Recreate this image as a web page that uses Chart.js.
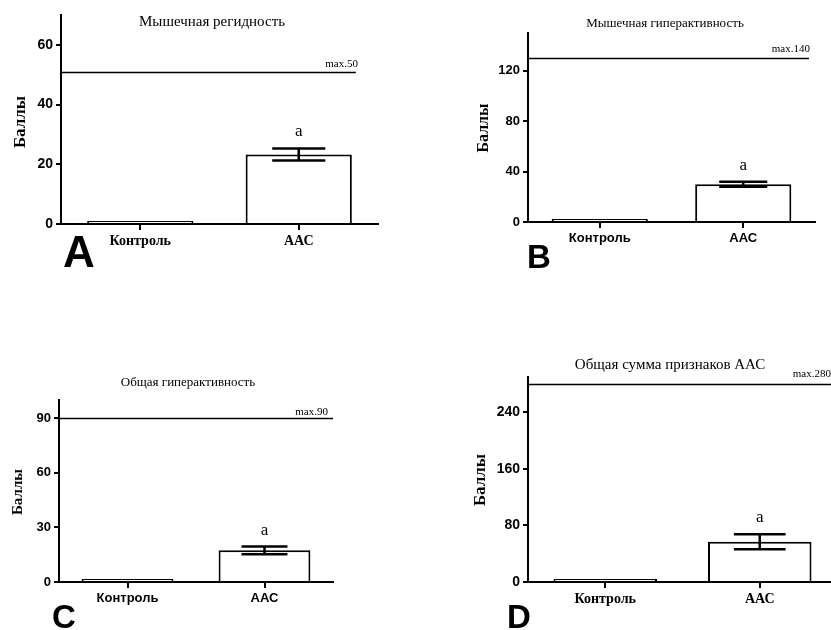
<!DOCTYPE html>
<html>
<head>
<meta charset="utf-8">
<script src="https://cdn.jsdelivr.net/npm/chart.js@4/dist/chart.umd.min.js"></script>
<style>
  html, body { margin: 0; padding: 0; background: #fff; width: 831px; height: 630px; overflow: hidden; }
  canvas { position: absolute; left: 0; top: 0; }
</style>
</head>
<body>
<canvas id="chartA" width="860" height="630"></canvas>
<canvas id="chartB" width="860" height="630"></canvas>
<canvas id="chartC" width="860" height="630"></canvas>
<canvas id="chartD" width="860" height="630"></canvas>
<script>
// ---- data ----
const categories = ["Контроль", "ААС"];
const titles = ["Мышечная регидность", "Мышечная гиперактивность", "Общая гиперактивность", "Общая сумма признаков ААС"];
const letters = ["A", "B", "C", "D"];
const yLabel = "Баллы";

const meansA = [0.4, 23.3];
const errA = [0, 2.0];
const meansB = [1.6, 30];
const errB = [0, 2.0];
const meansC = [0.7, 17.4];
const errC = [0, 2.1];
const meansD = [3.2, 57];
const errD = [0, 10.5];

const maxValues = [51, 130, 90, 280];
const maxLabels = ["max.50", "max.140", "max.90", "max.280"];
const yMaxes = [70, 150, 100, 290];
const yTicks = [[0, 20, 40, 60], [0, 40, 80, 120], [0, 30, 60, 90], [0, 80, 160, 240]];
const sigMark = "a";

// ---- layout (page pixels) ----
const CANVAS_W = 860;
const CANVAS_H = 630;
const Y_W = 55;
const X_H = 40;
const SERIF = "Liberation Serif";
const SANS = "Liberation Sans";

const layouts = [
  { left: 61, top: 15, right: 378, bottom: 224, titleX: 212, titleY: 26, titleSize: 15,
    yLabX: 21, yLabY: 122, yLabSize: 17, letX: 63, letY: 267, letSize: 44,
    xFont: SERIF, xSize: 14, tickSize: 14, lineEnd: 0.93, maxX: 358, maxDy: 6 },
  { left: 528, top: 33, right: 815, bottom: 222, titleX: 665, titleY: 27, titleSize: 13,
    yLabX: 484, yLabY: 128, yLabSize: 16, letX: 527, letY: 268, letSize: 33,
    xFont: SANS, xSize: 13, tickSize: 13, lineEnd: 0.979, maxX: 810, maxDy: 7 },
  { left: 59, top: 400, right: 333, bottom: 582, titleX: 188, titleY: 386, titleSize: 13,
    yLabX: 18, yLabY: 492, yLabSize: 15, letX: 52, letY: 628, letSize: 33,
    xFont: SANS, xSize: 13, tickSize: 13, lineEnd: 1, maxX: 328, maxDy: 4 },
  { left: 528, top: 377, right: 837, bottom: 582, titleX: 670, titleY: 369, titleSize: 15,
    yLabX: 481, yLabY: 480, yLabSize: 17, letX: 507, letY: 628, letSize: 33,
    xFont: SERIF, xSize: 14, tickSize: 14, lineEnd: 1, maxX: 831, maxDy: 8 }
];

// error bars, max line and all the free text
const extrasPlugin = {
  id: "extras",
  afterDraw(chart) {
    const p = chart.options.plugins.extras;
    const lay = p.lay;
    const ctx = chart.ctx;
    const y = chart.scales.y;
    const area = chart.chartArea;
    const bars = chart.getDatasetMeta(0).data;
    ctx.save();
    ctx.strokeStyle = "#000";
    ctx.fillStyle = "#000";

    p.errors.forEach((e, i) => {
      if (!e) return;
      const bar = bars[i];
      const top = y.getPixelForValue(p.means[i] + e);
      const bot = y.getPixelForValue(p.means[i] - e);
      const half = bar.width / 4;
      ctx.lineWidth = 2.5;
      ctx.beginPath();
      ctx.moveTo(bar.x, top);
      ctx.lineTo(bar.x, bot);
      ctx.moveTo(bar.x - half, top);
      ctx.lineTo(bar.x + half, top);
      ctx.moveTo(bar.x - half, bot);
      ctx.lineTo(bar.x + half, bot);
      ctx.stroke();
      ctx.font = "17px '" + SERIF + "'";
      ctx.textAlign = "center";
      ctx.textBaseline = "alphabetic";
      ctx.fillText(sigMark, bar.x, top - 12);
    });

    // max line
    const my = Math.round(y.getPixelForValue(p.maxValue)) + 0.5;
    const endX = area.left + (area.right - area.left) * lay.lineEnd;
    ctx.lineWidth = 1.3;
    ctx.beginPath();
    ctx.moveTo(area.left, my);
    ctx.lineTo(endX, my);
    ctx.stroke();
    ctx.font = "11px '" + SERIF + "'";
    ctx.textAlign = "right";
    ctx.fillText(p.maxLabel, lay.maxX, my - lay.maxDy);

    // panel title
    ctx.font = lay.titleSize + "px '" + SERIF + "'";
    ctx.textAlign = "center";
    ctx.fillText(p.title, lay.titleX, lay.titleY);

    // y title
    ctx.save();
    ctx.translate(lay.yLabX, lay.yLabY);
    ctx.rotate(-Math.PI / 2);
    ctx.font = "bold " + lay.yLabSize + "px '" + SERIF + "'";
    ctx.textBaseline = "middle";
    ctx.fillText(yLabel, 0, 0);
    ctx.restore();

    // panel letter
    ctx.font = "bold " + lay.letSize + "px '" + SANS + "'";
    ctx.textAlign = "left";
    ctx.textBaseline = "alphabetic";
    ctx.fillText(p.letter, lay.letX, lay.letY);
    ctx.restore();
  }
};

function drawPanel(id, i, means, errors) {
  const lay = layouts[i];
  return new Chart(document.getElementById(id), {
    type: "bar",
    data: {
      labels: categories,
      datasets: [{
        data: means,
        backgroundColor: "#fff",
        borderColor: "#000",
        borderWidth: 2,
        minBarLength: 3,
        barPercentage: 0.67,
        categoryPercentage: 1
      }]
    },
    options: {
      responsive: false,
      animation: false,
      layout: {
        padding: {
          left: lay.left - Y_W,
          top: lay.top,
          right: CANVAS_W - lay.right,
          bottom: CANVAS_H - lay.bottom - X_H
        }
      },
      plugins: {
        legend: { display: false },
        tooltip: { enabled: false },
        extras: {
          lay: lay, means: means, errors: errors, title: titles[i], letter: letters[i],
          maxValue: maxValues[i], maxLabel: maxLabels[i]
        }
      },
      scales: {
        x: {
          offset: true,
          grid: { display: true, drawOnChartArea: false, offset: false, tickLength: 6, color: "#000", lineWidth: 2 },
          border: { display: true, color: "#000", width: 2 },
          ticks: { color: "#000", padding: 3, font: { family: lay.xFont, size: lay.xSize, weight: "bold" } },
          afterFit(s) { s.height = X_H; }
        },
        y: {
          min: 0,
          max: yMaxes[i],
          afterBuildTicks(s) { s.ticks = yTicks[i].map(v => ({ value: v })); },
          grid: { display: true, drawOnChartArea: false, tickLength: 5, color: "#000", lineWidth: 2 },
          border: { display: true, color: "#000", width: 2 },
          ticks: { color: "#000", padding: 3, font: { family: SANS, size: lay.tickSize, weight: "bold" } },
          afterFit(s) { s.width = Y_W; }
        }
      }
    },
    plugins: [extrasPlugin]
  });
}

drawPanel("chartA", 0, meansA, errA);
drawPanel("chartB", 1, meansB, errB);
drawPanel("chartC", 2, meansC, errC);
drawPanel("chartD", 3, meansD, errD);
</script>
</body>
</html>
